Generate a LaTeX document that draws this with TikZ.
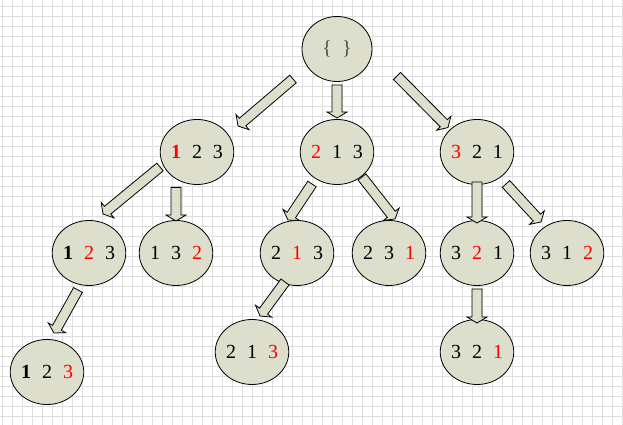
\documentclass[tikz,border=0pt]{standalone}
\usepackage{fontspec}
\setmainfont{Liberation Serif}
\usetikzlibrary{calc}
\usetikzlibrary{shapes.geometric}

\definecolor{nodefill}{RGB}{221,223,204}
\tikzset{
  permnode/.style={ellipse, draw, line width=0.8pt, fill=nodefill,
    minimum width=70pt, minimum height=65pt, inner sep=0pt,
    font=\fontsize{20}{21}\selectfont},
  blockbody/.style={draw, line width=0.8pt, fill=nodefill, line join=miter},
  gridline/.style={draw=black!13, line width=0.5pt}
}
\newcommand{\rd}[1]{\textcolor{red}{#1}}
\newcommand{\bd}[1]{\textbf{#1}}
\newcommand{\perm}[3]{#1\hspace{11pt}#2\hspace{11pt}#3}
% block arrow from #1 to #2 (tip at #2)
\newcommand{\blockarrow}[2]{%
  \path (#1) coordinate (ba-s) (#2) coordinate (ba-e);
  \coordinate (ba-h) at ($(ba-e)!6pt!(ba-s)$);
  \draw[blockbody] ($(ba-s)!5pt!90:(ba-e)$) -- ($(ba-h)!5pt!90:(ba-e)$)
    -- ($(ba-h)!10pt!90:(ba-e)$) -- (ba-e) -- ($(ba-h)!10pt!-90:(ba-e)$)
    -- ($(ba-h)!5pt!-90:(ba-e)$) -- ($(ba-s)!5pt!-90:(ba-e)$) -- cycle;
}

\begin{document}
\begin{tikzpicture}[x=1pt, y=1pt]
  \useasboundingbox (0,0) rectangle (623,425);
  \fill[white] (0,0) rectangle (623,425);

  % Grid paper
  \begin{scope}
    \clip (0,0) rectangle (623,425);
    \draw[gridline, shift={(2.7,-1)}, step=10pt] (-10,-10) grid (630,440);
  \end{scope}

  % Permutation tree
  \node[permnode, text=black!70] (root) at (337,376) {\{\hspace{10pt}\}};

  \node[permnode] (l1a) at (197,273) {\perm{\rd{\bd{1}}}{2}{3}};
  \node[permnode] (l1b) at (337,273) {\perm{\rd{2}}{1}{3}};
  \node[permnode] (l1c) at (477,273) {\perm{\rd{3}}{2}{1}};

  \node[permnode] (l2a) at (89,172)  {\perm{\bd{1}}{\rd{2}}{3}};
  \node[permnode] (l2b) at (176,172) {\perm{1}{3}{\rd{2}}};
  \node[permnode] (l2c) at (297,172) {\perm{2}{\rd{1}}{3}};
  \node[permnode] (l2d) at (389,172) {\perm{2}{3}{\rd{1}}};
  \node[permnode] (l2e) at (477,172) {\perm{3}{\rd{2}}{1}};
  \node[permnode] (l2f) at (567,172) {\perm{3}{1}{\rd{2}}};

  \node[permnode] (l3a) at (47,53)  {\perm{\bd{1}}{2}{\rd{3}}};
  \node[permnode] (l3b) at (252,73) {\perm{2}{1}{\rd{3}}};
  \node[permnode] (l3c) at (477,73) {\perm{3}{2}{\rd{1}}};

  % Arrows
  \blockarrow{$(root)+(-44,-30)$}{$(l1a)+(41,26)$}
  \blockarrow{$(root)+(0,-36)$}{$(l1b)+(0,34)$}
  \blockarrow{$(root)+(60,-27)$}{$(l1c)+(-29,24.5)$}

  \blockarrow{$(l1a)+(-37,-15)$}{$(l2a)+(14,39)$}
  \blockarrow{$(l2b|-l1a.south)+(0,-2.5)$}{$(l2b)+(0,32)$}
  \blockarrow{$(l1b)+(-25,-32)$}{$(l2c)+(-9,33)$}
  \blockarrow{$(l1b)+(25,-25)$}{$(l2d)+(6,34)$}
  \blockarrow{$(l1c)+(0,-30)$}{$(l2e)+(0,30)$}
  \blockarrow{$(l1c)+(29,-32)$}{$(l2f)+(-26,31)$}

  \blockarrow{$(l2a)+(-11,-37)$}{$(l3a)+(7,39)$}
  \blockarrow{$(l2c)+(-12,-29)$}{$(l3b)+(8,36)$}
  \blockarrow{$(l2e)+(0,-36)$}{$(l3c)+(0,29)$}
\end{tikzpicture}
\end{document}
